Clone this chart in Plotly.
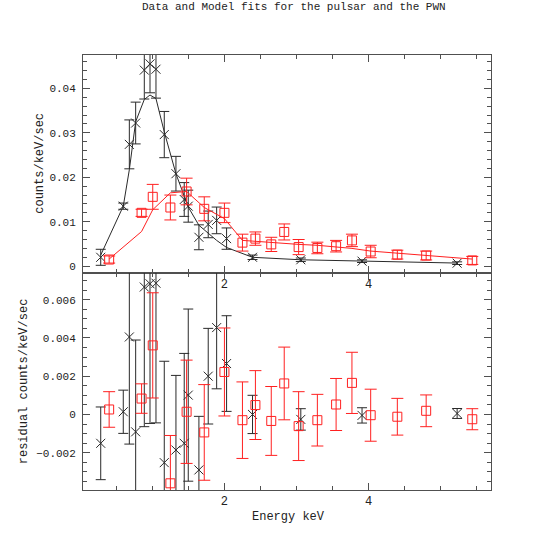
import plotly.graph_objects as go

# ---------------- data ----------------
psr_energy = [0.283, 0.596, 0.680, 0.768, 0.888, 0.967, 1.050, 1.165, 1.327, 1.442,
              1.498, 1.646, 1.775, 1.892, 2.030, 2.390, 3.060, 3.910, 5.230]
psr_rate = [0.0020, 0.0135, 0.0274, 0.0322, 0.0441, 0.0455, 0.0443, 0.0296, 0.0208, 0.0150,
            0.0135, 0.0065, 0.0094, 0.0103, 0.0062, 0.0020, 0.00144, 0.00113, 0.00068]
psr_rate_err = [0.0018, 0.0007, 0.0055, 0.0047, 0.0065, 0.0065, 0.0065, 0.0052, 0.0039, 0.0038,
                0.0036, 0.0028, 0.0030, 0.0030, 0.0024, 0.0005, 0.0004, 0.0003, 0.0003]
psr_model = [0.0025, 0.0135, 0.0217, 0.0325, 0.0375, 0.0385, 0.0377, 0.0302, 0.0208, 0.0156,
             0.0133, 0.0092, 0.0073, 0.0058, 0.0042, 0.0020, 0.00144, 0.0011, 0.0007]
psr_resid = [-0.00151, 0.00014, 0.00405, -0.00091, 0.00666, 0.00683, 0.00686, -0.00252, -0.00186, -0.00151,
             0.00101, -0.0029, 0.0020, 0.00454, 0.00266, 0.0000, -0.00026, -0.00005, 0.00005]
psr_resid_err = [0.0019, 0.00113, 0.0056, 0.0048, 0.0073, 0.0073, 0.0073, 0.0053, 0.0039, 0.0047,
                 0.0045, 0.0028, 0.0025, 0.0032, 0.0025, 0.0010, 0.00056, 0.0004, 0.00026]

pwn_energy = [0.40, 0.85, 1.005, 1.25, 1.475, 1.72, 2.00, 2.25, 2.43, 2.65,
              2.83, 3.03, 3.29, 3.55, 3.77, 4.03, 4.40, 4.80, 5.44]
pwn_rate = [0.0015, 0.0120, 0.0156, 0.0132, 0.0168, 0.0129, 0.0120, 0.0053, 0.0062, 0.0049,
            0.0077, 0.0043, 0.0041, 0.0045, 0.0058, 0.0033, 0.0026, 0.0024, 0.0013]
pwn_rate_err = [0.0008, 0.0008, 0.0028, 0.0028, 0.0030, 0.0027, 0.0022, 0.0019, 0.0015, 0.0016,
                0.0018, 0.0017, 0.0013, 0.0013, 0.0014, 0.0014, 0.0010, 0.0010, 0.0009]
pwn_model = [0.0016, 0.0078, 0.0127, 0.0165, 0.0168, 0.0132, 0.0107, 0.0058, 0.0056, 0.0053,
             0.0051, 0.0049, 0.0047, 0.0044, 0.0040, 0.0034, 0.0029, 0.0023, 0.0016]
pwn_resid = [0.00026, 0.00083, 0.00361, -0.0036, 0.00014, -0.00094, 0.00222, -0.0003, 0.00049, -0.00034,
             0.00162, -0.00061, -0.0003, 0.00052, 0.00165, -0.00004, -0.00012, 0.00019, -0.00025]
pwn_resid_err = [0.00093, 0.00077, 0.00275, 0.0025, 0.0027, 0.0025, 0.0023, 0.0020, 0.0018, 0.0018,
                 0.0019, 0.0018, 0.00135, 0.00136, 0.0016, 0.00136, 0.00096, 0.00083, 0.00055]

x_ticks = [2, 4]
x_ticklabels = ["2", "4"]

title_text = "Data and Model fits for the pulsar and the PWN"
x_title = "Energy keV"
y_title_top = "counts/keV/sec"
y_title_bottom = "residual counts/keV/sec"

# ---------------- styles ----------------
BLACK = "#2a2a2a"
RED = "#ff2020"
AXIS = "#505050"
TXT = "#222"
FONT = "Liberation Mono"
PW, PH = 408, 435   # plot area size in px

fig = go.Figure()

def data_trace(x, y, err, color, symbol, size, capw, xa, ya):
    return go.Scatter(
        x=x, y=y, mode="markers", xaxis=xa, yaxis=ya,
        marker=dict(symbol=symbol, size=size, color=color,
                    line=dict(color=color, width=1)),
        error_y=dict(type="data", array=err, visible=True, color=color,
                     thickness=1, width=capw),
        showlegend=False, hoverinfo="skip")

# top panel
fig.add_trace(go.Scatter(x=psr_energy, y=psr_model, mode="lines", xaxis="x", yaxis="y",
                         line=dict(color=BLACK, width=1), showlegend=False))
fig.add_trace(data_trace(psr_energy, psr_rate, psr_rate_err, BLACK, "x-thin-open", 9, 5, "x", "y"))
fig.add_trace(go.Scatter(x=pwn_energy, y=pwn_model, mode="lines", xaxis="x", yaxis="y",
                         line=dict(color=RED, width=1), showlegend=False))
fig.add_trace(data_trace(pwn_energy, pwn_rate, pwn_rate_err, RED, "square-open", 9, 6, "x", "y"))

# bottom panel
fig.add_trace(data_trace(psr_energy, psr_resid, psr_resid_err, BLACK, "x-thin-open", 9, 5, "x2", "y2"))
fig.add_trace(data_trace(pwn_energy, pwn_resid, pwn_resid_err, RED, "square-open", 9, 6, "x2", "y2"))

common_x = dict(range=[0.037, 5.70], tickmode="array", tickvals=x_ticks, ticktext=x_ticklabels,
                ticks="inside", ticklen=7, tickcolor=AXIS, tickwidth=1,
                minor=dict(dtick=0.5, tick0=0, ticks="inside", ticklen=4, tickcolor=AXIS),
                showline=True, linecolor=AXIS, linewidth=1, mirror="allticks",
                showgrid=False, zeroline=False,
                tickfont=dict(family=FONT, size=12, color=TXT))
common_y = dict(ticks="inside", ticklen=7, tickcolor=AXIS, tickwidth=1,
                showline=True, linecolor=AXIS, linewidth=1, mirror="allticks",
                showgrid=False, zeroline=False, ticklabelstandoff=4,
                tickfont=dict(family=FONT, size=11, color=TXT))

fig.update_layout(
    width=545, height=545,
    margin=dict(l=83, r=54, t=55, b=55),
    paper_bgcolor="white", plot_bgcolor="white",
    font=dict(family=FONT, color=TXT),
    xaxis=dict(domain=[0, 1], anchor="y", **common_x),
    xaxis2=dict(domain=[0, 1], anchor="y2", **common_x),
    yaxis=dict(domain=[0.5, 1], anchor="x", range=[-0.00142, 0.0475], dtick=0.01, tick0=0,
               minor=dict(dtick=0.002, tick0=0, ticks="inside", ticklen=4, tickcolor=AXIS),
               **common_y),
    yaxis2=dict(domain=[0, 0.5], anchor="x2", range=[-0.00395, 0.00742], dtick=0.002, tick0=0,
                minor=dict(dtick=0.0005, tick0=0, ticks="inside", ticklen=4, tickcolor=AXIS),
                **common_y),
    annotations=[
        dict(text=title_text, xref="paper", yref="paper", x=(294 - 83) / PW, y=1 + (55 - 7) / PH,
             xanchor="center", yanchor="middle", showarrow=False,
             font=dict(family=FONT, size=11, color=TXT)),
        dict(text=x_title, xref="paper", yref="paper", x=(288 - 83) / PW, y=-(517 - 490) / PH,
             xanchor="center", yanchor="middle", showarrow=False,
             font=dict(family=FONT, size=12, color=TXT)),
        dict(text=y_title_top, xref="paper", yref="paper", x=(40 - 83) / PW, y=0.75,
             xanchor="center", yanchor="middle", textangle=-90, showarrow=False,
             font=dict(family=FONT, size=12, color=TXT)),
        dict(text=y_title_bottom, xref="paper", yref="paper", x=(24 - 83) / PW, y=0.25,
             xanchor="center", yanchor="middle", textangle=-90, showarrow=False,
             font=dict(family=FONT, size=12, color=TXT)),
    ],
)

fig.write_html("out.html", config={"displayModeBar": False},
               post_script="document.body.style.margin='0';")
